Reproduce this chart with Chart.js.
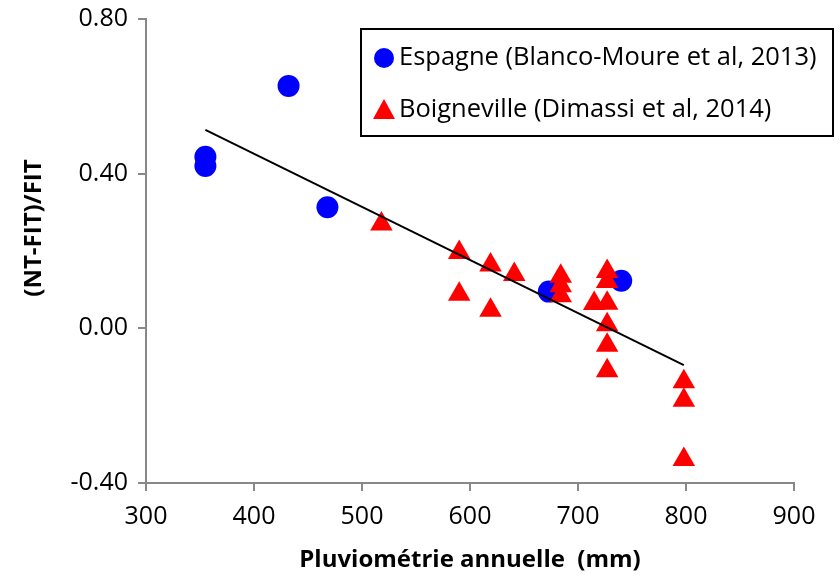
<!DOCTYPE html>
<html>
<head>
<meta charset="utf-8">
<script src="https://cdn.jsdelivr.net/npm/chart.js@4.4.1/dist/chart.umd.min.js"></script>
<style>
  html, body { margin: 0; padding: 0; background: #fff; }
  #wrap { width: 840px; height: 580px; }
</style>
</head>
<body>
<div id="wrap"><canvas id="chart" width="840" height="580"></canvas></div>
<script>
// Espagne (Blanco-Moure et al, 2013)
const espX = [355, 355, 432, 468, 673, 740];
const espY = [0.444, 0.420, 0.627, 0.313, 0.095, 0.123];

// Boigneville (Dimassi et al, 2014)
const boigX = [518, 590, 590, 619, 619, 641, 684, 684, 684, 715, 727, 727, 727, 727, 727, 727, 798, 798, 798];
const boigY = [0.270, 0.196, 0.088, 0.164, 0.047, 0.139, 0.135, 0.110, 0.084, 0.064, 0.147, 0.121, 0.065, 0.009, -0.044, -0.110, -0.138, -0.186, -0.339];

// linear trend line, end points
const trendX = [355, 798];
const trendY = [0.513, -0.095];

const legendLabels = ['Espagne (Blanco-Moure et al, 2013)', 'Boigneville (Dimassi et al, 2014)'];
const xTitle = 'Pluviométrie annuelle  (mm)';
const yTitle = '(NT-FIT)/FIT';

const FONT = '"Open Sans", sans-serif';

function toPoints(xs, ys) {
    return xs.map((x, i) => ({ x: x, y: ys[i] }));
}

// legend box + axis titles drawn by hand to match the original placement
const decorations = {
    id: 'decorations',
    afterDraw(chart) {
        const ctx = chart.ctx;
        const area = chart.chartArea;
        ctx.save();

        // legend
        ctx.strokeStyle = '#000';
        ctx.lineWidth = 2;
        ctx.strokeRect(361, 29, 472, 107);
        ctx.fillStyle = '#0000ff';
        ctx.beginPath();
        ctx.arc(384, 58, 10, 0, Math.PI * 2);
        ctx.fill();
        ctx.fillStyle = '#ff0000';
        ctx.beginPath();
        ctx.moveTo(384, 99);
        ctx.lineTo(395, 119);
        ctx.lineTo(373, 119);
        ctx.closePath();
        ctx.fill();
        ctx.fillStyle = '#000';
        ctx.font = '25.5px ' + FONT;
        ctx.textBaseline = 'middle';
        ctx.textAlign = 'left';
        ctx.fillText(legendLabels[0], 399, 58);
        ctx.fillText(legendLabels[1], 399, 110);

        // axis titles
        ctx.font = 'bold 24px ' + FONT;
        ctx.textAlign = 'center';
        ctx.fillText(xTitle, (area.left + area.right) / 2, 560);
        ctx.translate(34, 228);
        ctx.rotate(-Math.PI / 2);
        ctx.fillText(yTitle, 0, 0);
        ctx.restore();
    }
};

new Chart(document.getElementById('chart'), {
    type: 'scatter',
    data: {
        datasets: [
            {
                type: 'line',
                label: 'trend',
                data: toPoints(trendX, trendY),
                borderColor: '#000',
                borderWidth: 2,
                pointRadius: 0,
                fill: false,
                order: 0
            },
            {
                label: legendLabels[1],
                data: toPoints(boigX, boigY),
                pointStyle: 'triangle',
                pointRadius: 13,
                backgroundColor: '#ff0000',
                borderColor: '#ff0000',
                borderWidth: 0,
                order: 1
            },
            {
                label: legendLabels[0],
                data: toPoints(espX, espY),
                pointStyle: 'circle',
                pointRadius: 11,
                backgroundColor: '#0000ff',
                borderColor: '#0000ff',
                borderWidth: 0,
                order: 2
            }
        ]
    },
    options: {
        responsive: false,
        animation: false,
        layout: { padding: { top: 19, right: 46, left: 0, bottom: 0 } },
        plugins: {
            legend: { display: false },
            tooltip: { enabled: false }
        },
        scales: {
            x: {
                type: 'linear',
                min: 300,
                max: 900,
                afterFit(scale) {
                    scale.height = 97;
                    scale.paddingLeft = 0;
                    scale.paddingRight = 0;
                },
                ticks: {
                    stepSize: 100,
                    color: '#000',
                    font: { family: FONT, size: 25 },
                    padding: 11
                },
                grid: { drawOnChartArea: false, color: '#888', tickLength: 8, lineWidth: 2 },
                border: { color: '#888', width: 2 }
            },
            y: {
                type: 'linear',
                min: -0.4,
                max: 0.8,
                afterFit(scale) {
                    scale.width = 146;
                    scale.paddingTop = 0;
                    scale.paddingBottom = 0;
                },
                ticks: {
                    stepSize: 0.4,
                    color: '#000',
                    font: { family: FONT, size: 25 },
                    padding: 10,
                    callback: v => v.toFixed(2)
                },
                grid: { drawOnChartArea: false, color: '#888', tickLength: 8, lineWidth: 2 },
                border: { color: '#888', width: 2 }
            }
        }
    },
    plugins: [decorations]
});
</script>
</body>
</html>
